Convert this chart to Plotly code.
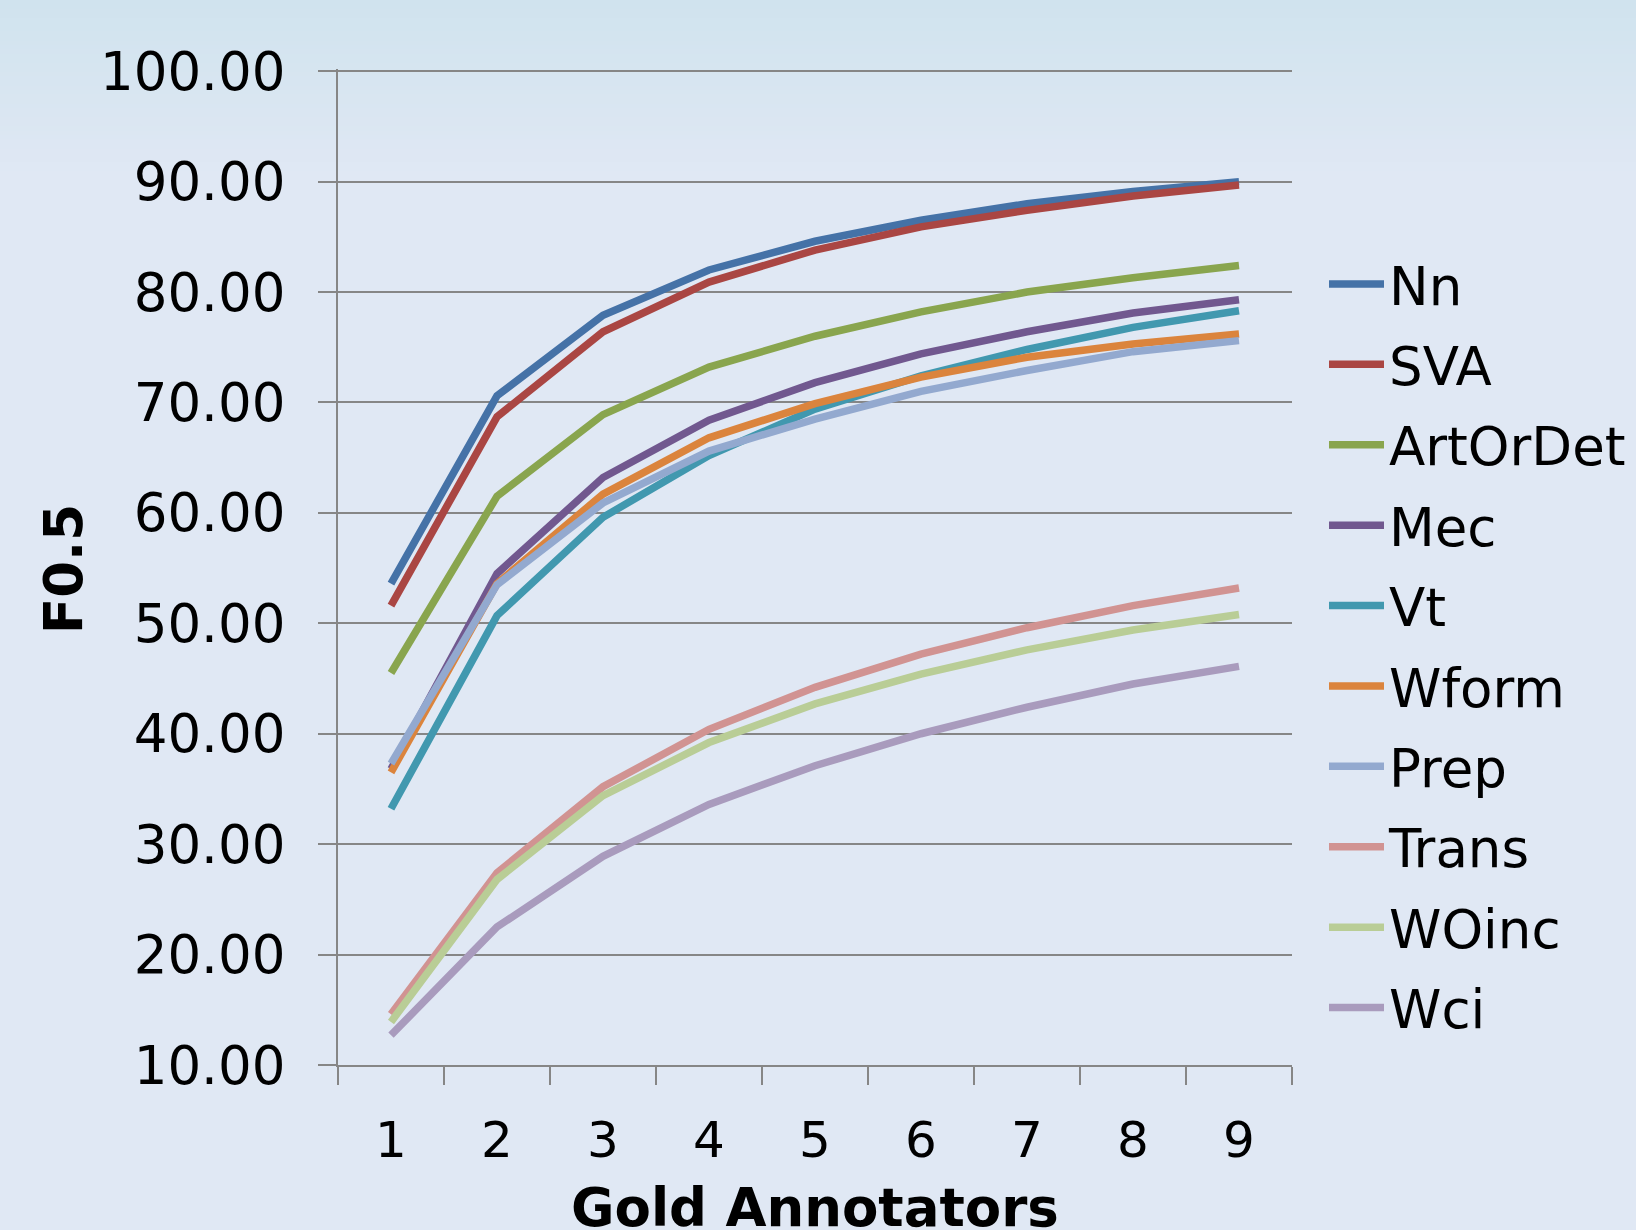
import plotly.graph_objects as go

# Number of gold annotators (x categories)
annotators = ["1", "2", "3", "4", "5", "6", "7", "8", "9"]

# F0.5 per error category
nn = [53.6, 70.6, 77.9, 82.0, 84.6, 86.5, 88.0, 89.1, 90.0]
sva = [51.6, 68.7, 76.4, 80.9, 83.8, 85.9, 87.4, 88.7, 89.7]
artordet = [45.5, 61.5, 68.9, 73.2, 76.0, 78.2, 80.0, 81.3, 82.4]
mec = [36.8, 54.5, 63.2, 68.4, 71.8, 74.4, 76.4, 78.1, 79.3]
vt = [33.2, 50.7, 59.6, 65.2, 69.4, 72.4, 74.8, 76.8, 78.3]
wform = [36.5, 53.6, 61.7, 66.8, 69.9, 72.3, 74.1, 75.3, 76.2]
prep = [37.3, 53.5, 60.9, 65.6, 68.5, 71.0, 72.9, 74.6, 75.6]
trans = [14.6, 27.4, 35.2, 40.4, 44.2, 47.2, 49.6, 51.6, 53.2]
woinc = [13.9, 26.8, 34.4, 39.2, 42.7, 45.4, 47.6, 49.4, 50.8]
wci = [12.7, 22.5, 28.9, 33.6, 37.1, 40.0, 42.4, 44.5, 46.1]

series_names = ["Nn", "SVA", "ArtOrDet", "Mec", "Vt", "Wform", "Prep", "Trans", "WOinc", "Wci"]
series_values = [nn, sva, artordet, mec, vt, wform, prep, trans, woinc, wci]
series_colors = ["#4572A7", "#AA4643", "#89A54E", "#71588F", "#4198AF",
                 "#DB843D", "#93A9CF", "#D19392", "#B9CD96", "#A99BBD"]

W, H = 1636, 1230
# top margin leaves a couple of px above 100 so its gridline is kept
L, R, T, B = 338, 344, 69, 165
PW, PH = W - L - R, H - T - B

FONT = "DejaVu Sans"
GRID = "#868686"

fig = go.Figure()
for name, vals, col in zip(series_names, series_values, series_colors):
    fig.add_trace(go.Scatter(
        x=annotators, y=vals, name=name, mode="lines",
        line=dict(color=col, width=7.5),
        legendgroup=name,
    ))

# soft vertical gradient at the top of the page
top_rgb = (208, 227, 238)
base_rgb = (224, 232, 244)
steps = 40
grad_h = 180
shapes = []
for i in range(steps):
    f = i / (steps - 1)
    c = tuple(round(top_rgb[k] + (base_rgb[k] - top_rgb[k]) * f) for k in range(3))
    y0_px = i * grad_h / steps
    y1_px = (i + 1) * grad_h / steps + 1
    shapes.append(dict(
        type="rect", xref="paper", yref="paper", layer="below",
        x0=-L / PW, x1=(W - L) / PW,
        y0=(H - B - y1_px) / PH, y1=(H - B - y0_px) / PH,
        line=dict(width=0), fillcolor="rgb(%d,%d,%d)" % c,
    ))


def px_x(px):
    return (px - L) / PW


def px_y(py):
    return (H - B - py) / PH


annotations = [
    dict(text="<b>F0.5</b>", xref="paper", yref="paper",
         x=px_x(63), y=px_y(569), textangle=-90, showarrow=False,
         xanchor="center", yanchor="middle",
         font=dict(family=FONT, size=53, color="black")),
    dict(text="<b>Gold Annotators</b>", xref="paper", yref="paper",
         x=px_x(815), y=px_y(1207), showarrow=False,
         xanchor="center", yanchor="middle",
         font=dict(family=FONT, size=53, color="black")),
]

fig.update_layout(
    width=W, height=H,
    margin=dict(l=L, r=R, t=T, b=B, pad=0, autoexpand=False),
    paper_bgcolor="rgb(224,232,244)",
    plot_bgcolor="rgba(0,0,0,0)",
    font=dict(family=FONT, color="black"),
    shapes=shapes,
    annotations=annotations,
    showlegend=True,
    legend=dict(
        x=px_x(1324), y=px_y(243), xanchor="left", yanchor="top",
        font=dict(family=FONT, size=53, color="black"),
        bgcolor="rgba(0,0,0,0)",
        tracegroupgap=8.5,
        traceorder="grouped",
        itemwidth=55,
    ),
)

fig.update_xaxes(
    type="category",
    range=[-0.5, 8.5],
    tickson="boundaries",
    ticks="outside", ticklen=18, tickwidth=2, tickcolor=GRID,
    showline=True, linecolor=GRID, linewidth=2,
    showgrid=False, zeroline=False,
    tickfont=dict(family=FONT, size=50, color="black"),
    ticklabelstandoff=30,
)
fig.update_yaxes(
    range=[10, 100.2], dtick=10, tick0=10, tickformat=".2f",
    ticks="outside", ticklen=18, tickwidth=2, tickcolor=GRID,
    showline=True, linecolor=GRID, linewidth=2,
    showgrid=True, gridcolor=GRID, gridwidth=2,
    zeroline=False,
    tickfont=dict(family=FONT, size=53, color="black"),
    ticklabelstandoff=22,
)

fig.write_html("out.html")
